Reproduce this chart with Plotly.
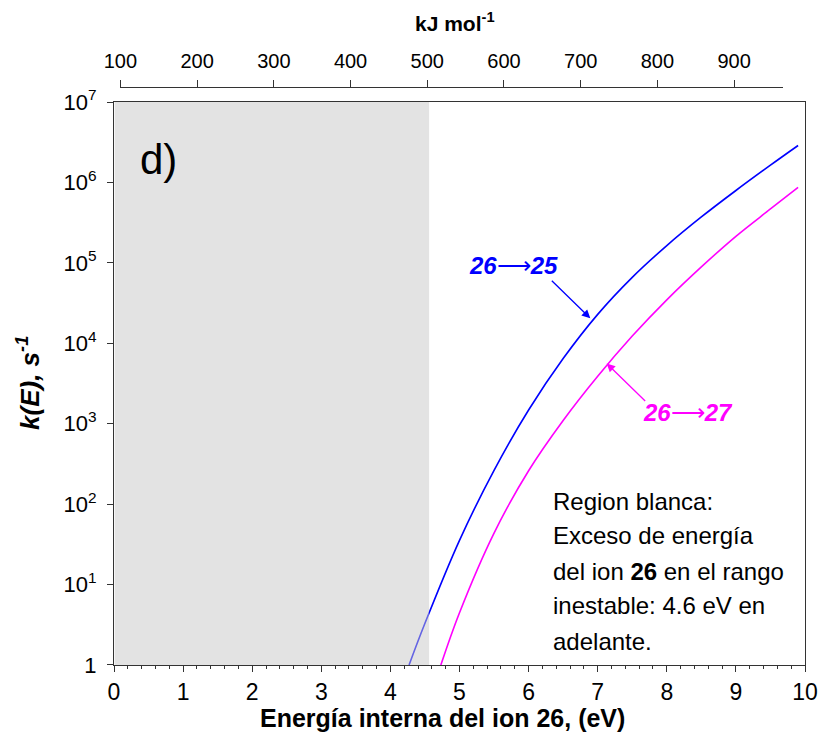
import plotly.graph_objects as go

# Data
energy_blue = [4.27, 4.5, 5.0, 5.5, 6.0, 6.5, 7.0, 7.5, 8.0, 8.5, 9.0, 9.5, 9.9]
k_blue = [1.0, 3.3, 35.5, 263, 1480, 6460, 2.29e4, 6.61e4, 1.64e5, 3.72e5, 7.94e5, 1.64e6, 2.88e6]

energy_mag = [4.73, 5.0, 5.5, 6.0, 6.5, 7.0, 7.5, 8.0, 8.5, 9.0, 9.5, 9.9]
k_mag = [1.0, 4.47, 43.7, 260, 1096, 3890, 1.23e4, 3.47e4, 8.91e4, 2.14e5, 4.68e5, 8.71e5]

y_tickvals = [1, 1e1, 1e2, 1e3, 1e4, 1e5, 1e6, 1e7]
y_ticktext = ["1", "10<sup>1</sup>", "10<sup>2</sup>", "10<sup>3</sup>", "10<sup>4</sup>",
              "10<sup>5</sup>", "10<sup>6</sup>", "10<sup>7</sup>"]
x_ticks = list(range(0, 11))
kj_ticks = [100, 200, 300, 400, 500, 600, 700, 800, 900]
gray_limit = 4.56

FONT = "Liberation Sans, Arial, sans-serif"

fig = go.Figure()
fig.add_trace(go.Scatter(x=energy_blue, y=k_blue, mode="lines", line=dict(color="#0000ff", width=1.6, shape="spline"),
                         showlegend=False, hoverinfo="skip"))
fig.add_trace(go.Scatter(x=energy_mag, y=k_mag, mode="lines", line=dict(color="#ff00ff", width=1.6, shape="spline"),
                         showlegend=False, hoverinfo="skip"))
# invisible trace to activate the top kJ/mol axis
fig.add_trace(go.Scatter(x=[kj_ticks[0]], y=[1], xaxis="x2", yaxis="y", mode="markers",
                         marker=dict(opacity=0), showlegend=False, hoverinfo="skip"))

fig.add_shape(type="rect", xref="x", yref="y domain", x0=0.01, x1=gray_limit, y0=0, y1=1,
              fillcolor="rgba(200,200,200,0.5)", line=dict(width=0), layer="above")

def A(**kw):
    d = dict(showarrow=False, xanchor="center", yanchor="middle")
    d.update(kw)
    return d

ann = []
ann.append(A(text="d)", xref="paper", yref="paper", x=0.0645, y=0.874,
             font=dict(size=42, color="black", family=FONT)))
ann.append(A(text="<b><i>26</i></b>⟶<b><i>25</i></b>", xref="paper", yref="paper", x=0.578, y=0.692,
             font=dict(size=24, color="#0000ff", family=FONT)))
ann.append(A(text="<b><i>26</i></b>⟶<b><i>27</i></b>", xref="paper", yref="paper", x=0.8305, y=0.436,
             font=dict(size=24, color="#ff00ff", family=FONT)))
ann.append(dict(text="", x=6.893, y=4.31, xref="x", yref="y", ax=-40, ay=-39, showarrow=True,
                arrowhead=2, arrowsize=1.3, arrowwidth=1.3, arrowcolor="#0000ff"))
ann.append(dict(text="", x=7.13, y=3.75, xref="x", yref="y", ax=40, ay=39, showarrow=True,
                arrowhead=2, arrowsize=1.3, arrowwidth=1.3, arrowcolor="#ff00ff"))

lines = ["Region blanca:", "Exceso de energía", "del ion <b>26</b> en el rango",
         "inestable: 4.6 eV en", "adelante."]
ys = [0.2837, 0.2232, 0.1626, 0.1021, 0.0415]
for t, yy in zip(lines, ys):
    ann.append(A(text=t, xref="paper", yref="paper", x=0.6318, y=yy, xanchor="left",
                 font=dict(size=24, color="black", family=FONT)))

ann.append(A(text="<b>Energía interna del ion 26, (eV)</b>", xref="paper", yref="paper", x=0.4756, y=-0.0917,
             font=dict(size=25, color="black", family=FONT)))
ann.append(A(text="<b><i>k(E), s<sup>-1</sup></i></b>", xref="paper", yref="paper", x=-0.123, y=0.488,
             textangle=-90, font=dict(size=26, color="black", family=FONT)))
ann.append(A(text="<b>kJ mol<sup>-1</sup></b>", xref="paper", yref="paper", x=0.494, y=1.1125,
             font=dict(size=21, color="black", family=FONT)))

fig.update_layout(
    width=830, height=744,
    margin=dict(l=114, r=18, t=87, b=79),
    paper_bgcolor="white", plot_bgcolor="rgba(0,0,0,0)",
    font=dict(family=FONT, color="black"),
    annotations=ann,
    xaxis=dict(range=[0, 10], tickvals=x_ticks, ticks="outside", ticklen=6, tickwidth=1, tickcolor="#333",
               showline=True, linecolor="#333", linewidth=1, mirror=True, showgrid=False, zeroline=False,
               tickfont=dict(size=23), minor=dict(dtick=0.2, ticks="outside", ticklen=3, tickcolor="#333"),
               anchor="y", domain=[0, 1]),
    xaxis2=dict(range=[100, 964], tickvals=kj_ticks, ticks="outside", ticklen=7, tickwidth=1, tickcolor="#333",
                showline=True, linecolor="#333", linewidth=1, showgrid=False, zeroline=False,
                side="top", anchor="free", position=1, domain=[0.0093, 0.9685], tickfont=dict(size=20),
                ticklabelstandoff=4),
    yaxis=dict(type="log", range=[0, 7], tickvals=y_tickvals, ticktext=y_ticktext, ticks="outside", ticklen=6,
               tickcolor="#333", showline=True, linecolor="#333", linewidth=1, mirror=True, showgrid=False,
               zeroline=False, tickfont=dict(size=22), domain=[0, 0.974], ticklabelstandoff=6),
)

fig.write_html("out.html")
